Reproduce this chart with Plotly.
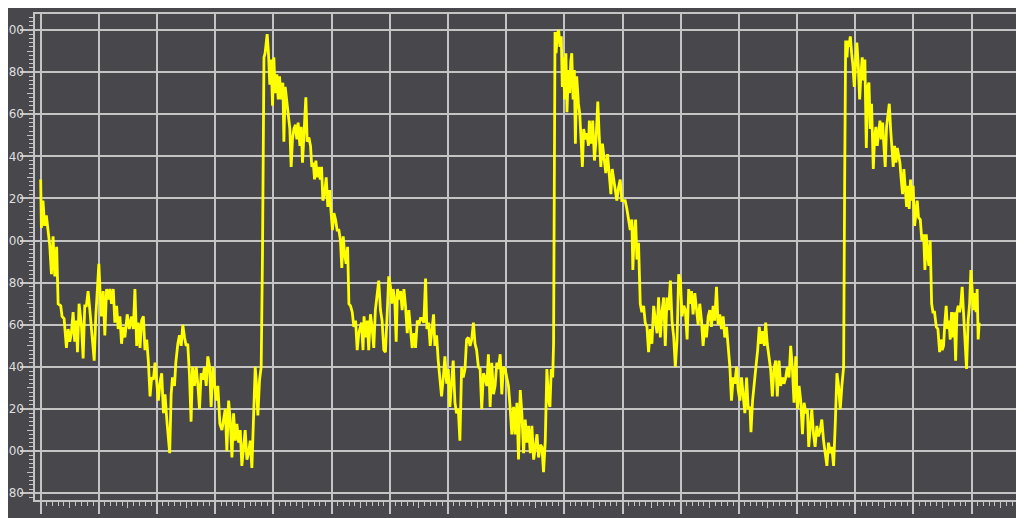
import plotly.graph_objects as go

# Sample positions (x) and readings (y)
x_vals = [
    0, 5, 16, 27, 39, 50, 62, 74, 85, 97, 110, 120, 138, 147, 161, 177, 189, 200, 211, 223,
    234, 246, 253, 264, 280, 292, 303, 314, 326, 338, 354, 368, 379, 391, 400, 409, 418, 430, 441, 453,
    464, 476, 487, 499, 510, 522, 533, 545, 556, 568, 579, 595, 609, 625, 637, 648, 660, 671, 683, 694,
    706, 717, 729, 740, 752, 763, 775, 786, 798, 809, 821, 832, 844, 855, 867, 878, 887, 897, 906, 920,
    929, 943, 954, 966, 977, 989, 1000, 1011, 1023, 1034, 1044, 1057, 1069, 1080,
    1092, 1103, 1115, 1126, 1138, 1149, 1161, 1172, 1184, 1195, 1209, 1218, 1232, 1246, 1260, 1269, 1280, 1292, 1303, 1315,
    1326, 1338, 1349, 1361, 1372, 1383, 1395, 1406, 1418, 1429, 1441, 1452, 1463, 1475, 1484, 1493, 1505, 1516, 1525, 1530,
    1535, 1543, 1557, 1566, 1575, 1584, 1594, 1603, 1612, 1624, 1633, 1642, 1653, 1665, 1672, 1681, 1690, 1702, 1713, 1722,
    1731, 1741, 1752, 1761, 1770, 1782, 1791, 1800, 1812, 1823, 1832, 1844, 1855, 1864, 1874, 1883, 1892, 1901, 1910, 1922,
    1931, 1940, 1952, 1963, 1974, 1986, 1997, 2006, 2016, 2027, 2038, 2050, 2061, 2070, 2080, 2089, 2100, 2110, 2119, 2130,
    2142, 2153, 2165, 2176, 2187,
    2205, 2216, 2223, 2234, 2246, 2255, 2267, 2278, 2290, 2301, 2313, 2324, 2336, 2347, 2359, 2370, 2382, 2393, 2405, 2414,
    2423, 2434, 2444, 2453, 2462, 2474, 2485, 2497, 2508, 2520, 2531, 2543, 2554, 2566, 2577, 2589, 2600, 2611, 2623, 2634,
    2646, 2655, 2667, 2678, 2690, 2701, 2710, 2722, 2733, 2745, 2756, 2768, 2779, 2791, 2802, 2813, 2825, 2836, 2848, 2859,
    2871, 2882, 2894, 2905, 2917, 2928, 2940, 2952, 2963, 2975, 2986, 2997, 3009, 3021, 3032, 3044, 3055, 3067, 3078, 3090,
    3101, 3113, 3124, 3136, 3147, 3159, 3170, 3182, 3193, 3205, 3216, 3228, 3239, 3251, 3262, 3274, 3285, 3297, 3308, 3320,
    3331, 3343, 3354, 3366, 3377, 3389, 3400, 3412, 3423, 3435, 3446, 3457, 3469, 3480, 3492, 3501, 3510, 3520, 3526, 3531,
    3536, 3543, 3552, 3561, 3570, 3579, 3586, 3593, 3602, 3611, 3618, 3628, 3637, 3644, 3651, 3660, 3669, 3676, 3685, 3697,
    3706, 3715, 3724, 3733, 3745, 3754, 3766, 3772, 3784, 3795, 3807, 3818, 3830, 3839, 3851, 3862, 3874, 3885, 3897, 3908,
    3920, 3929, 3938, 3949, 3961, 3972, 3984, 3995, 4007, 4018, 4030, 4041, 4053, 4064, 4071, 4080, 4090, 4099, 4110, 4122,
    4133, 4145, 4156, 4168, 4179, 4191, 4202, 4214, 4225, 4237, 4248, 4260, 4271, 4283, 4294, 4306, 4317, 4329, 4340, 4352,
    4363, 4375, 4386, 4398, 4409, 4421, 4432, 4444, 4455,
    4462, 4474, 4485, 4497, 4508, 4520, 4531, 4543, 4554, 4566, 4577, 4589, 4600, 4611, 4623, 4634, 4646, 4657, 4669, 4680,
    4692, 4703, 4715, 4726, 4738, 4749, 4761, 4772, 4784, 4795, 4807, 4818, 4830, 4841, 4853, 4864, 4876, 4883, 4894, 4906,
    4917, 4929, 4940, 4952, 4963, 4975, 4984, 4995, 5007, 5018, 5030, 5041, 5053, 5064, 5076, 5087, 5099, 5110, 5122, 5133,
    5145, 5156, 5168, 5179, 5191, 5202, 5214, 5225, 5237, 5248, 5260, 5271, 5280, 5290, 5301, 5313, 5324, 5336, 5347, 5359,
    5370, 5382, 5393, 5405, 5416, 5428, 5439, 5451, 5462, 5474, 5485, 5497, 5508, 5520,
    5527, 5534, 5543, 5550, 5556, 5566, 5575, 5584, 5593, 5602, 5611, 5621, 5630, 5639, 5648, 5657, 5666, 5676, 5685, 5694,
    5703, 5712, 5724, 5733, 5742, 5751, 5760, 5770, 5779, 5788, 5797, 5806, 5815, 5825, 5834, 5843, 5852, 5861, 5870, 5880,
    5889, 5898, 5907, 5916, 5925, 5934, 5944, 5953, 5962, 5971, 5980, 5989, 5998, 6008, 6017, 6026, 6035, 6047, 6058, 6070,
    6079, 6088, 6097, 6106, 6115, 6125, 6134, 6145, 6157, 6168, 6180, 6189, 6198, 6207, 6216, 6225, 6234, 6244, 6253, 6262,
    6271, 6280, 6290, 6299, 6308, 6317, 6326, 6335, 6344, 6354, 6365, 6376, 6386, 6395, 6404, 6413, 6422, 6431, 6438, 6445,
    6452,
]

y_vals = [
    729, 706, 719, 707, 712, 704, 698, 684, 702, 683, 697, 670, 669, 664, 663, 649, 658, 652, 656, 666,
    652, 662, 647, 670, 660, 644, 669, 669, 676, 667, 653, 643, 664, 678, 689, 675, 664, 676, 655, 677,
    672, 677, 670, 677, 661, 669, 658, 664, 651, 659, 654, 665, 658, 664, 658, 677, 650, 661, 649, 662,
    664, 648, 653, 643, 626, 635, 634, 642, 632, 624, 633, 637, 618, 627, 615, 608, 599, 627, 635, 631,
    642, 651, 655, 650, 660, 654, 650, 651, 636, 614, 640, 631, 640, 632,
    620, 637, 634, 640, 631, 645, 640, 621, 640, 632, 624, 631, 613, 610, 615, 620, 600, 624, 615, 597,
    618, 605, 613, 604, 610, 593, 602, 610, 596, 599, 605, 592, 615, 640, 631, 617, 634, 640, 694, 783,
    787, 789, 798, 789, 774, 786, 764, 787, 770, 779, 767, 778, 767, 775, 747, 773, 767, 762, 753, 735,
    748, 753, 755, 748, 756, 745, 754, 737, 751, 768, 747, 749, 745, 735, 737, 729, 738, 730, 735, 729,
    735, 719, 722, 730, 716, 724, 713, 705, 713, 710, 705, 705, 700, 687, 702, 694, 689, 697, 670, 669,
    666, 659, 662, 648, 656,
    661, 648, 664, 654, 662, 648, 665, 659, 649, 667, 675, 681, 667, 662, 648, 647, 665, 683, 678, 670,
    677, 672, 652, 677, 672, 676, 667, 677, 669, 656, 667, 659, 649, 656, 649, 662, 660, 663, 663, 661,
    682, 658, 661, 650, 659, 665, 650, 655, 643, 634, 626, 635, 645, 632, 639, 621, 635, 643, 623, 618,
    620, 605, 640, 635, 639, 653, 654, 650, 653, 661, 651, 648, 640, 639, 620, 637, 635, 631, 646, 621,
    642, 627, 631, 642, 639, 646, 627, 640, 639, 634, 631, 620, 608, 621, 608, 623, 596, 629, 618, 599,
    615, 604, 612, 599, 612, 596, 602, 608, 597, 603, 602, 590, 605, 639, 624, 621, 639, 635, 651, 790,
    799, 789, 798, 800, 792, 797, 773, 787, 767, 789, 761, 781, 770, 785, 789, 767, 781, 746, 778, 765,
    760, 748, 735, 753, 748, 751, 745, 757, 746, 757, 738, 748, 766, 751, 735, 746, 738, 732, 741, 732,
    722, 734, 730, 726, 719, 725, 729, 719, 719, 719, 715, 710, 705, 710, 686, 703, 710, 691, 699, 670,
    666, 669, 661, 659, 647, 658, 651, 669, 662, 656, 673, 654, 666, 673, 650, 673, 667, 681, 662, 654,
    640, 653, 684, 681, 664, 669, 667, 653, 677,
    670, 676, 665, 675, 668, 660, 670, 662, 650, 660, 654, 664, 667, 659, 669, 662, 678, 660, 665, 658,
    664, 654, 659, 650, 640, 624, 635, 632, 640, 629, 624, 635, 627, 618, 635, 620, 621, 609, 624, 634,
    640, 648, 659, 651, 657, 650, 661, 651, 643, 639, 626, 639, 643, 626, 643, 631, 635, 632, 635, 640,
    635, 650, 639, 623, 645, 620, 631, 624, 608, 623, 618, 620, 602, 613, 620, 608, 602, 612, 607, 610,
    615, 605, 599, 593, 604, 599, 602, 593, 612, 637, 631, 620, 631, 640,
    726, 795, 787, 795, 792, 797, 789, 783, 773, 784, 794, 783, 767, 779, 787, 776, 786, 744, 773, 775,
    753, 765, 734, 749, 754, 745, 751, 757, 748, 756, 745, 735, 754, 759, 765, 753, 746, 735, 745, 737,
    744, 740, 737, 729, 722, 734, 726, 716, 726, 715, 729, 719, 726, 707, 713, 719, 711, 710, 700, 703,
    686, 703, 694, 688, 700, 670, 666, 666, 659, 658, 647, 653, 648, 650, 661, 669, 658, 662, 653, 666,
    654, 666, 643, 666, 669, 666, 670, 678, 666, 653, 639, 662, 670, 686, 675, 667, 675, 666, 677, 653,
    661,
]

x_tick_step = 400
y_tick_values = [580, 600, 620, 640, 660, 680, 700, 720, 740, 760, 780, 800]

BG = "#48474c"
GRID = "#c4c4c4"
TXT = "#dedede"
FONT = "DejaVu Sans, Verdana, sans-serif"

fig = go.Figure()
fig.add_trace(go.Scatter(
    x=x_vals, y=y_vals, mode="lines",
    line=dict(color="#ffff00", width=2.8),
    hoverinfo="skip", showlegend=False,
))
# invisible traces on helper axes (mid-length ticks, y labels)
fig.add_trace(go.Scatter(
    x=x_vals, y=y_vals, mode="lines", xaxis="x2", yaxis="y2",
    line=dict(color="rgba(0,0,0,0)", width=0),
    hoverinfo="skip", showlegend=False,
))
fig.add_trace(go.Scatter(
    x=x_vals, y=y_vals, mode="lines", xaxis="x", yaxis="y3",
    line=dict(color="rgba(0,0,0,0)", width=0),
    hoverinfo="skip", showlegend=False,
))

xr = [-39, 6760]
yr = [576.8, 807.6]

fig.update_layout(
    width=1024, height=518,
    template="none",
    paper_bgcolor=BG, plot_bgcolor=BG,
    margin=dict(l=27, r=8, t=6, b=26, autoexpand=False),
    showlegend=False,
    font=dict(family=FONT, size=11, color=TXT),
    xaxis=dict(
        range=xr, tick0=0, dtick=x_tick_step, automargin=False,
        showgrid=True, gridcolor=GRID, gridwidth=1.5, zeroline=False,
        showline=True, linecolor=GRID, linewidth=1.5, mirror=True,
        ticks="outside", ticklen=12, tickcolor=GRID, tickwidth=1.5,
        tickfont=dict(family=FONT, size=12, color=TXT),
        minor=dict(dtick=40, tick0=0, ticks="outside", ticklen=4, tickcolor=GRID, tickwidth=1, showgrid=False),
    ),
    yaxis=dict(
        range=yr, tickmode="array", tickvals=y_tick_values, automargin=False,
        showgrid=True, gridcolor=GRID, gridwidth=1.5, zeroline=False,
        showline=True, linecolor=GRID, linewidth=1.5, showticklabels=False,
        ticks="outside", ticklen=13, tickcolor=GRID, tickwidth=1.5,
        minor=dict(dtick=2, tick0=0, ticks="outside", ticklen=4, tickcolor=GRID, tickwidth=1, showgrid=False),
    ),
    xaxis2=dict(
        overlaying="x", anchor="y", side="bottom", range=xr, tick0=0, dtick=200,
        showgrid=False, zeroline=False, showline=False, showticklabels=False,
        ticks="outside", ticklen=7, tickcolor=GRID, tickwidth=1, automargin=False,
    ),
    yaxis2=dict(
        overlaying="y", anchor="x", side="left", range=yr, tick0=0, dtick=10,
        showgrid=False, zeroline=False, showline=False, showticklabels=False,
        ticks="outside", ticklen=7, tickcolor=GRID, tickwidth=1, automargin=False,
    ),
    yaxis3=dict(
        overlaying="y", anchor="x", side="left", range=yr, tickmode="array",
        tickvals=y_tick_values, showgrid=False, zeroline=False, showline=False,
        ticks="", showticklabels=True, ticklabelstandoff=10, automargin=False,
        tickfont=dict(family=FONT, size=12, color=TXT),
    ),
)

fig.write_html("out.html")
